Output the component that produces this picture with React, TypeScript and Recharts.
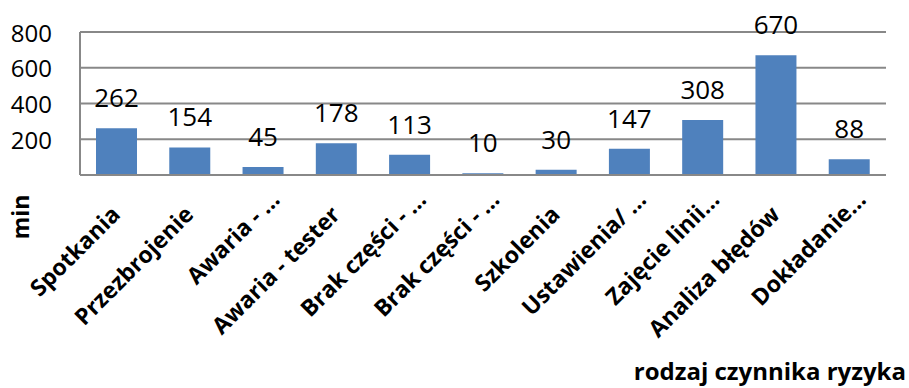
import React from 'react';
import { BarChart, Bar, XAxis, YAxis, CartesianGrid, LabelList } from 'recharts';

const categories = [
  'Spotkania',
  'Przezbrojenie',
  'Awaria - …',
  'Awaria - tester',
  'Brak części - …',
  'Brak części - …',
  'Szkolenia',
  'Ustawienia/ …',
  'Zajęcie linii…',
  'Analiza błędów',
  'Dokładanie…',
];
const values = [262, 154, 45, 178, 113, 10, 30, 147, 308, 670, 88];
const yTicks = [0, 200, 400, 600, 800];
const yAxisTitle = 'min';
const xAxisTitle = 'rodzaj czynnika ryzyka';

const data = categories.map((c, i) => ({ key: `${i}`, name: c, value: values[i] }));

const FONT = "'Open Sans', 'Noto Sans', sans-serif";
const GRID = '#888888';
const PLOT_BOTTOM = 175;

const XTick = (props: any) => {
  const { x, payload } = props;
  const label = categories[payload.index] ?? payload.value;
  const truncated = label.endsWith('…');
  const ax = x + (truncated ? 18 : 5);
  const ay = truncated ? PLOT_BOTTOM + 26 : PLOT_BOTTOM + 41;
  return (
    <text
      x={ax}
      y={ay}
      textAnchor="end"
      transform={`rotate(-45, ${ax}, ${ay})`}
      fontFamily={FONT}
      fontWeight="bold"
      fontSize={23}
      fill="#000"
    >
      {label}
    </text>
  );
};

const YTick = (props: any) => {
  const { y, payload } = props;
  if (payload.value === 0) return null;
  return (
    <text x={52} y={y} textAnchor="end" dominantBaseline="central" fontFamily={FONT} fontSize={24} fill="#000">
      {payload.value}
    </text>
  );
};

export default function App() {
  return (
    <div style={{ position: 'absolute', left: 0, top: 0, width: 909, height: 388, background: '#fff' }}>
      <BarChart
        width={909}
        height={388}
        data={data}
        margin={{ top: 32, right: 23, bottom: 0, left: 0 }}
      >
        <CartesianGrid horizontal vertical={false} stroke={GRID} strokeWidth={2} />
        <XAxis
          dataKey="key"
          interval={0}
          tickLine={false}
          axisLine={{ stroke: GRID, strokeWidth: 2 }}
          height={213}
          tick={<XTick />}
        />
        <YAxis
          domain={[0, 800]}
          ticks={yTicks}
          width={80}
          tickLine={false}
          axisLine={{ stroke: GRID, strokeWidth: 2 }}
          tick={<YTick />}
        />
        <Bar dataKey="value" fill="#4F81BD" barSize={41} isAnimationActive={false}>
          <LabelList
            dataKey="value"
            position="top"
            offset={21}
            style={{ fontSize: 26, fill: '#000', fontFamily: FONT }}
          />
        </Bar>
      </BarChart>
      <svg
        width={909}
        height={388}
        style={{ position: 'absolute', left: 0, top: 0, pointerEvents: 'none' }}
      >
        <text
          x={20}
          y={217}
          textAnchor="middle"
          dominantBaseline="central"
          transform="rotate(-90, 20, 217)"
          fontFamily={FONT}
          fontWeight="bold"
          fontSize={23}
          fill="#000"
        >
          {yAxisTitle}
        </text>
        <text x={906} y={380} textAnchor="end" fontFamily={FONT} fontWeight="bold" fontSize={24} fill="#000">
          {xAxisTitle}
        </text>
      </svg>
    </div>
  );
}
